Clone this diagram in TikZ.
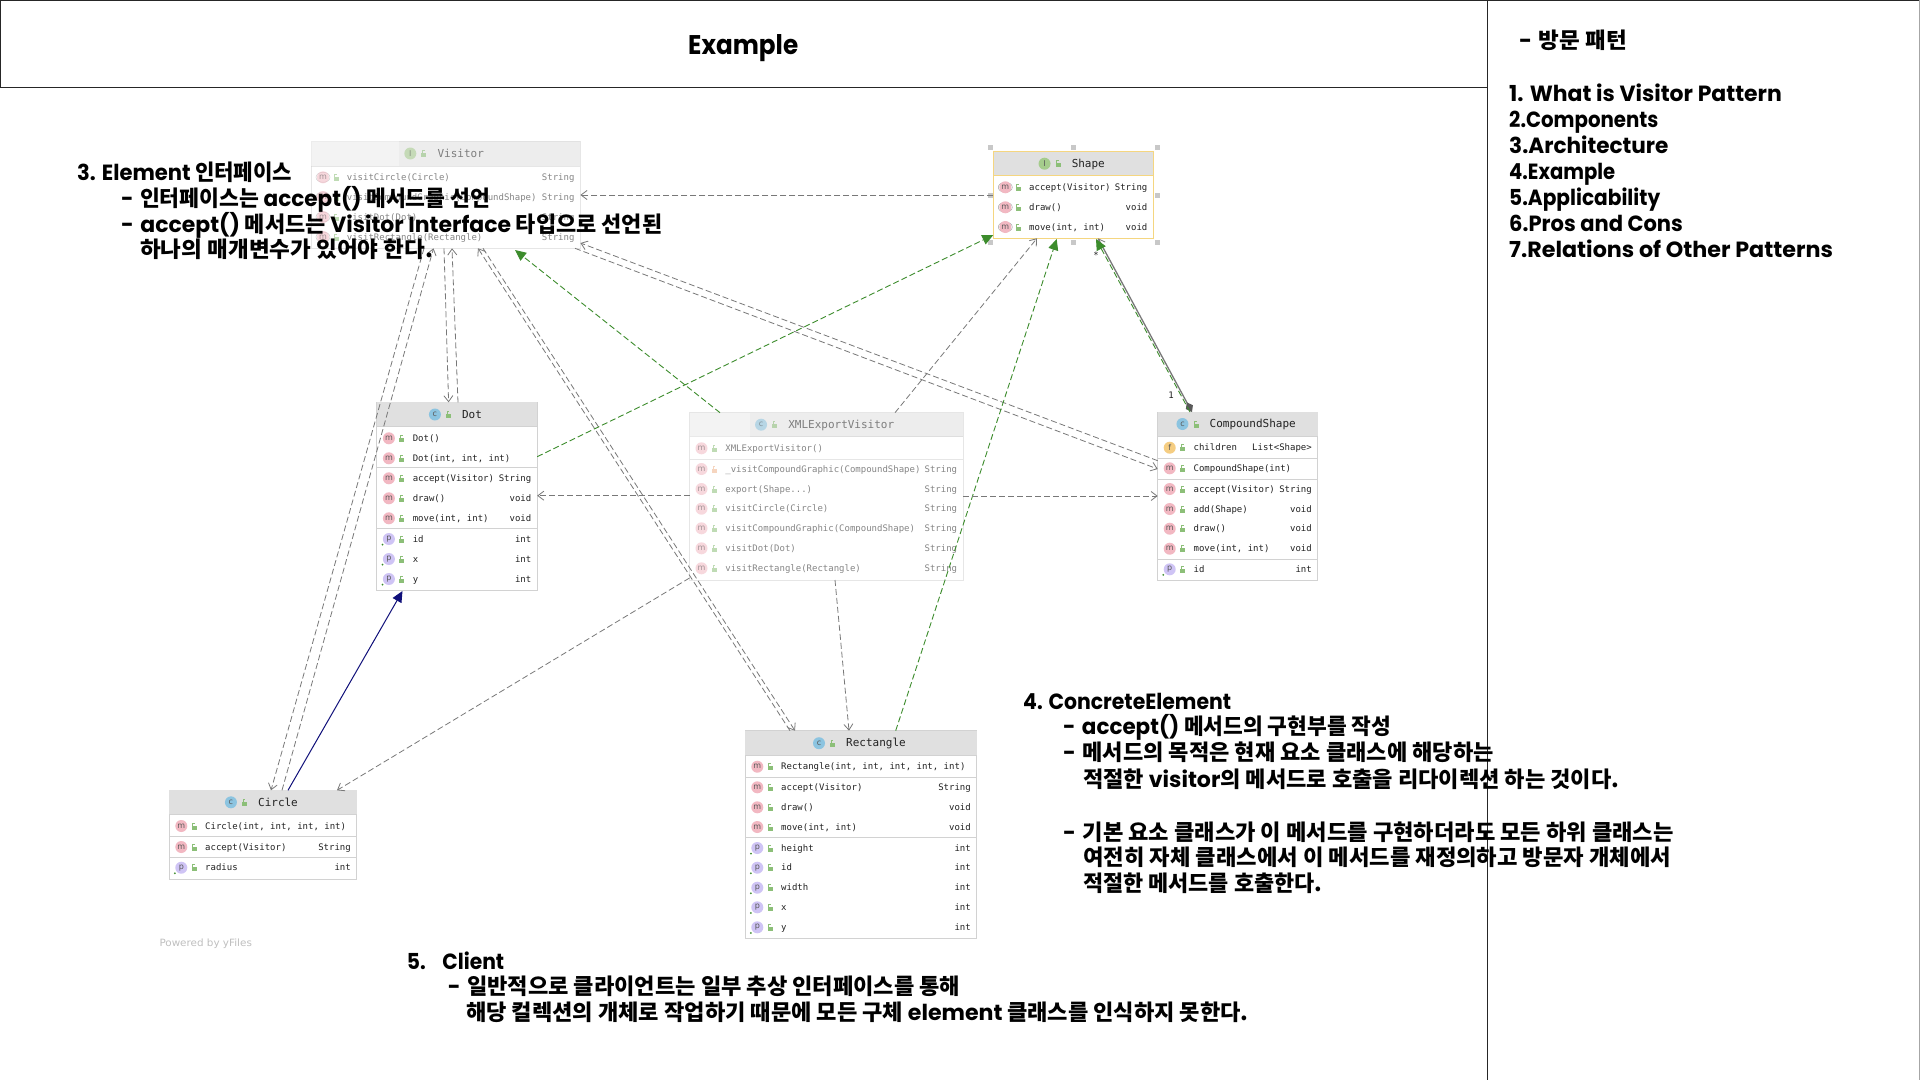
\documentclass[tikz,border=0pt]{standalone}
\usepackage{fontspec}
\usepackage{graphicx}
\usetikzlibrary{arrows.meta}
\setmainfont{Poppins}
\newfontfamily\kof{Noto Sans CJK KR}
\newfontfamily\monof{DejaVu Sans Mono}
\newfontfamily\dejaf{DejaVu Sans}
\newcommand\ko[1]{{\kof\bfseries #1}}
\newcommand\dsh{-\hspace{6.5pt}}
\definecolor{depgrey}{HTML}{787878}
\definecolor{implgreen}{HTML}{3C8C2C}
\definecolor{navyline}{HTML}{10107A}
\definecolor{boxline}{HTML}{D2D2D2}
\definecolor{headfill}{HTML}{E0E0E0}
\definecolor{rowtext}{HTML}{222222}
\definecolor{pinkicon}{HTML}{F2B8C2}
\definecolor{blueicon}{HTML}{8CC4E0}
\definecolor{greenicon}{HTML}{A5CC8C}
\definecolor{purpleicon}{HTML}{CFC4F5}
\definecolor{orangeicon}{HTML}{F5CD82}
\definecolor{lockgreen}{HTML}{8CBF78}
\definecolor{lockorange}{HTML}{F0B48C}
\definecolor{selyellow}{HTML}{F5D680}
\definecolor{handlegrey}{HTML}{C8C8C8}
\tikzset{
  classnode/.style={rectangle,anchor=north west,inner sep=0pt,outer sep=0pt,fill=white,line width=.9pt},
  iconnode/.style={circle,inner sep=0pt,minimum size=12pt,text=rowtext!75,font=\dejaf\fontsize{8}{8}\selectfont},
  titletext/.style={anchor=base,inner sep=0pt,text=rowtext,font=\monof\fontsize{11}{13}\selectfont},
  rowleft/.style={anchor=base west,inner sep=0pt,text=rowtext,font=\monof\fontsize{9}{11}\selectfont},
  rowright/.style={anchor=base east,inner sep=0pt,text=rowtext,font=\monof\fontsize{9}{11}\selectfont},
  deparrow/.style={depgrey,line width=.8pt,dash pattern=on 6pt off 3pt,-{Straight Barb[length=6pt,width=9pt]}},
  implarrow/.style={implgreen,line width=.9pt,dash pattern=on 6pt off 3pt,-{Triangle[length=11pt,width=10pt,sep=0pt]}},
  navyarrow/.style={navyline,line width=1pt,-{Triangle[length=11pt,width=10pt]}},
  compoarrow/.style={depgrey,line width=1.3pt,{Diamond[length=11pt,width=8pt,color=black!65,fill=black!65]}-{Straight Barb[length=6pt,width=9pt,line width=.8pt]}},
  bigtext/.style={anchor=base west,inner sep=0pt,text=black,font=\bfseries\fontsize{22}{26}\selectfont},
  handle/.style={rectangle,fill=handlegrey,inner sep=0pt,minimum size=5pt},
  framepath/.style={draw=black!85,line width=1pt},
}
\newcounter{autoname}
\newcommand\lockat[2]{\begin{scope}[shift={#1}]
  \fill[#2] (-2.5,-.5) rectangle (2.5,3.5);
  \draw[#2,line width=.7pt] (-1.5,-.5) -- (-1.5,-3) -- (.8,-3);
  \end{scope}}
\newcommand\iconat[3]{\stepcounter{autoname}\node[iconnode,fill=#2] (n\arabic{autoname}) at #1 {#3};}
\newcommand\classbox[9]{%
  \def\cL{#2}\def\cT{#3}\def\cW{#4}\def\cH{#5}\def\cR{(#2+#4)}%
  \node[classnode,draw=boxline,minimum width=#4 pt,minimum height=#5 pt] (#1) at (#2,#3) {};
  \fill[headfill] (#2,#3) rectangle (#2+#4,#3+#6);
  \draw[boxline,line width=.9pt] (#2,#3+#6) -- (#2+#4,#3+#6);
  \node[titletext] (#1title) at (#2+#4/2+15,#3+#6/2+3.7) {#7};
  \iconat{([shift={(-27,-3.7)}]#1title.base west)}{#8}{#9}
  \lockat{([shift={(-13.4,-3.7)}]#1title.base west)}{lockgreen}
}
\newcommand\sepline[1]{\draw[boxline,line width=.9pt] (\cL,#1) -- (\cL+\cW,#1);}
\newcommand\rowtexts[3]{%
  \stepcounter{autoname}\node[rowleft] (n\arabic{autoname}) at (\cL+35.7,#1+3) {#2};
  \stepcounter{autoname}\node[rowright] (n\arabic{autoname}) at (\cL+\cW-5.7,#1+3) {#3};
}
\newcommand\mrow[3]{\iconat{(\cL+12,#1)}{pinkicon}{m}\lockat{(\cL+25,#1)}{lockgreen}\rowtexts{#1}{#2}{#3}}
\newcommand\mprivrow[3]{\iconat{(\cL+12,#1)}{pinkicon}{m}\lockat{(\cL+25,#1)}{lockorange}\rowtexts{#1}{#2}{#3}}
\newcommand\arow[3]{\draw[black!35,line width=.5pt] (\cL+12,#1) ellipse (7pt and 5pt);\iconat{(\cL+12,#1)}{pinkicon}{m}\lockat{(\cL+25,#1)}{lockgreen}\rowtexts{#1}{#2}{#3}}
\newcommand\prow[3]{\iconat{(\cL+12,#1)}{purpleicon}{p}\fill[implgreen] (\cL+5.6,#1+5.6) circle (1pt);\lockat{(\cL+25,#1)}{lockgreen}\rowtexts{#1}{#2}{#3}}
\newcommand\frow[3]{\iconat{(\cL+12,#1)}{orangeicon}{f}\lockat{(\cL+25,#1)}{lockgreen}\rowtexts{#1}{#2}{#3}}
\newcommand\fitline[4]{\stepcounter{autoname}\node[bigtext] (n\arabic{autoname}) at (#1,#2) {\resizebox{#3pt}{\height}{#4}};}
\newcommand\bp[3]{([shift={(#2,#3)}]#1.north west)}
\begin{document}
\begin{tikzpicture}[x=1pt,y=-1pt]
\useasboundingbox (0,0) rectangle (1920,1080);
\fill[white] (0,0) rectangle (1920,1080);

% frame
\draw[framepath] (0,87) -- (0,.5) -- (1919.5,.5);
\draw[framepath] (0,87) -- (1487.5,87);
\draw[framepath] (1487.5,0) -- (1487.5,1080);
\draw[black!35,line width=1pt] (1919.5,0) -- (1919.5,1080);

% faded classes
\begin{scope}[opacity=.55]
\classbox{visitor}{311}{141}{269.4}{107.3}{25}{Visitor}{greenicon}{I}
\arow{177.3}{visitCircle(Circle)}{String}
\arow{197}{visitCompoundGraphic(CompoundShape)}{String}
\arow{217}{visitDot(Dot)}{String}
\arow{237}{visitRectangle(Rectangle)}{String}
\end{scope}
\fill[white,opacity=.35] (311,141) rectangle (399,166);

\begin{scope}[opacity=.55]
\classbox{xml}{689.5}{412.7}{273.5}{167.3}{24}{XMLExportVisitor}{blueicon}{c}
\mrow{448.3}{XMLExportVisitor()}{}
\sepline{459.3}
\mprivrow{469}{\_visitCompoundGraphic(CompoundShape)}{String}
\mrow{489}{export(Shape...)}{String}
\mrow{508.7}{visitCircle(Circle)}{String}
\mrow{528.3}{visitCompoundGraphic(CompoundShape)}{String}
\mrow{548.3}{visitDot(Dot)}{String}
\mrow{568.3}{visitRectangle(Rectangle)}{String}
\end{scope}
\fill[white,opacity=.35] (689.5,412.7) rectangle (749.6,436.7);

% Shape
\classbox{shape}{993.3}{151.7}{160}{86.6}{24}{Shape}{greenicon}{I}
\draw[selyellow,line width=1pt] (shape.north west) rectangle (shape.south east);
\draw[selyellow,line width=1pt] (993.3,175.7) -- (1153.3,175.7);
\arow{187.3}{accept(Visitor)}{String}
\arow{207.3}{draw()}{void}
\arow{227}{move(int, int)}{void}
\node[handle] (h1) at (990,147.7) {};
\node[handle] (h2) at (1073.7,147.7) {};
\node[handle] (h3) at (1157.7,147.7) {};
\node[handle] (h4) at (990,195) {};
\node[handle] (h5) at (1157.7,195) {};
\node[handle] (h6) at (990,242.7) {};
\node[handle] (h7) at (1073.7,242.7) {};
\node[handle] (h8) at (1157.7,242.7) {};

% Dot
\classbox{dot}{376.9}{402.3}{160.3}{188.4}{24.4}{Dot}{blueicon}{c}
\mrow{438.3}{Dot()}{}
\mrow{458.3}{Dot(int, int, int)}{}
\sepline{467.3}
\mrow{478.3}{accept(Visitor)}{String}
\mrow{498.3}{draw()}{void}
\mrow{518.3}{move(int, int)}{void}
\sepline{528.3}
\prow{539}{id}{int}
\prow{559}{x}{int}
\prow{579}{y}{int}

% CompoundShape
\classbox{comp}{1157.7}{412}{160}{168.7}{24}{CompoundShape}{blueicon}{c}
\frow{447.7}{children}{List<Shape>}
\sepline{458.3}
\mrow{468.3}{CompoundShape(int)}{}
\sepline{479}
\mrow{489}{accept(Visitor)}{String}
\mrow{509}{add(Shape)}{void}
\mrow{528.7}{draw()}{void}
\mrow{548.7}{move(int, int)}{void}
\sepline{559}
\prow{569.3}{id}{int}

% Circle
\classbox{circ}{169.3}{790.3}{187.4}{89}{24}{Circle}{blueicon}{c}
\mrow{826}{Circle(int, int, int, int)}{}
\sepline{836.7}
\mrow{847}{accept(Visitor)}{String}
\sepline{857.3}
\prow{867.7}{radius}{int}

% Rectangle
\classbox{rectbox}{745.3}{730.7}{231.4}{208}{25}{Rectangle}{blueicon}{c}
\mrow{766.7}{Rectangle(int, int, int, int, int)}{}
\sepline{777}
\mrow{787.3}{accept(Visitor)}{String}
\mrow{807.3}{draw()}{void}
\mrow{827}{move(int, int)}{void}
\sepline{837.3}
\prow{848}{height}{int}
\prow{867.7}{id}{int}
\prow{887.7}{width}{int}
\prow{907.3}{x}{int}
\prow{927.3}{y}{int}

% connectors
\draw[deparrow] \bp{shape}{0}{43.3} -- \bp{visitor}{269.4}{54};
\draw[deparrow] \bp{comp}{0}{48.7} -- \bp{visitor}{269.4}{102};
\draw[deparrow] \bp{visitor}{264}{107.3} -- \bp{comp}{0}{57};
\draw[deparrow] \bp{dot}{81.1}{0} -- \bp{visitor}{141}{107.3};
\draw[deparrow] \bp{visitor}{133}{107.3} -- \bp{dot}{71.7}{0};
\draw[deparrow] \bp{circ}{112.7}{0} -- \bp{visitor}{122.5}{107.3};
\draw[deparrow] \bp{visitor}{113}{107.3} -- \bp{circ}{101.7}{0};
\draw[deparrow] \bp{rectbox}{44.7}{0} -- \bp{visitor}{167}{107.3};
\draw[deparrow] \bp{visitor}{172}{107.3} -- \bp{rectbox}{49.7}{0};
\draw[implarrow] \bp{xml}{30.5}{0} -- \bp{visitor}{204}{109};
\draw[implarrow] \bp{dot}{160.3}{54.4} -- \bp{shape}{0}{83.3};
\draw[deparrow] \bp{xml}{205.5}{0} -- \bp{shape}{43.7}{86.6};
\draw[implarrow] \bp{rectbox}{150.4}{0} -- \bp{shape}{63.4}{87.3};
\draw[compoarrow] \bp{comp}{34.3}{0} -- \bp{shape}{104.7}{86.6};
\draw[implarrow] \bp{comp}{32.3}{0} -- \bp{shape}{102.7}{87.3};
\draw[deparrow] \bp{xml}{0}{83} -- \bp{dot}{160.3}{93.4};
\draw[deparrow] \bp{xml}{273.5}{83.3} -- \bp{comp}{0}{84};
\draw[deparrow] \bp{xml}{0}{165.3} -- \bp{circ}{167.7}{0};
\draw[deparrow] \bp{xml}{145.5}{167.3} -- \bp{rectbox}{103.7}{0};
\draw[navyarrow] \bp{circ}{118.7}{0} -- \bp{dot}{25.6}{188.7};

% multiplicities
\node[rowleft,anchor=center] (multone) at (1171,395) {1};
\node[rowleft,anchor=center] (multmany) at (1096,255) {*};

% footer
\node[anchor=base west,inner sep=0pt,text=black!25,font=\dejaf\fontsize{10}{12}\selectfont] (yfiles) at (159.3,946) {\resizebox{92.4pt}{\height}{Powered by yFiles}};

% heading
\stepcounter{autoname}\node[bigtext,font=\bfseries\fontsize{27}{30}\selectfont] (heading) at (688,54.5) {\resizebox{110pt}{\height}{Example}};

% side panel
\fitline{1519}{48}{107.7}{\dsh\ko{방문 패턴}}
\fitline{1509}{101}{272.7}{1. What is Visitor Pattern}
\fitline{1509}{127.2}{149.3}{2.Components}
\fitline{1509}{153.2}{159.3}{3.Architecture}
\fitline{1509}{179}{106}{4.Example}
\fitline{1509}{205}{151}{5.Applicability}
\fitline{1509}{231}{173.7}{6.Pros and Cons}
\fitline{1509}{257.2}{323.7}{7.Relations of Other Patterns}

% note 3
\fitline{77}{180}{215}{3. Element \ko{인터페이스}}
\fitline{121}{206}{369}{\dsh\ko{인터페이스는} accept() \ko{메서드를 선언}}
\fitline{121}{232}{541}{\dsh accept() \ko{메서드는} Visitor Interface \ko{타입으로 선언된}}
\fitline{140}{257}{293}{\ko{하나의 매개변수가 있어야 한다.}}

% note 4
\fitline{1023}{709}{208}{4. ConcreteElement}
\fitline{1063}{734}{328}{\dsh accept() \ko{메서드의 구현부를 작성}}
\fitline{1063}{760.5}{430.5}{\dsh\ko{메서드의 목적은 현재 요소 클래스에 해당하는}}
\fitline{1083}{787}{536}{\ko{적절한} visitor\ko{의 메서드로 호출을 리다이렉션 하는 것이다.}}
\fitline{1063}{840}{610.5}{\dsh\ko{기본 요소 클래스가 이 메서드를 구현하더라도 모든 하위 클래스는}}
\fitline{1083}{865.5}{588}{\ko{여전히 자체 클래스에서 이 메서드를 재정의하고 방문자 개체에서}}
\fitline{1083}{891.5}{239}{\ko{적절한 메서드를 호출한다.}}

% note 5
\fitline{406.7}{969}{97.3}{5.\hspace{18pt}Client}
\fitline{447.7}{994}{512.3}{\dsh\ko{일반적으로 클라이언트는 일부 추상 인터페이스를 통해}}
\fitline{466}{1020}{782.5}{\ko{해당 컬렉션의 개체로 작업하기 때문에 모든 구체} element \ko{클래스를 인식하지 못한다.}}
\end{tikzpicture}
\end{document}
